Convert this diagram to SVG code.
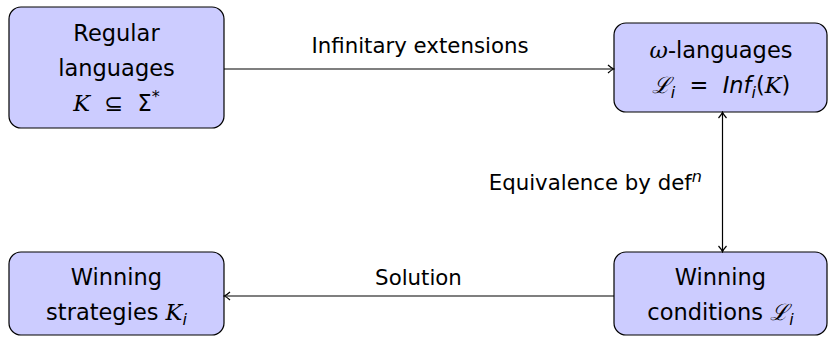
<svg xmlns="http://www.w3.org/2000/svg" width="828" height="338" viewBox="0 0 828 338">
<defs>
<style>
.box{fill:#ccccff;stroke:#000;stroke-width:1.2}
.t{font-family:"DejaVu Sans",sans-serif;font-size:22.5px;fill:#000;text-anchor:middle}
.l{font-family:"DejaVu Sans",sans-serif;font-size:21.3px;fill:#000;text-anchor:middle}
.m{font-family:"DejaVu Serif",serif;font-style:italic}
.i{font-style:italic}
.sub{font-size:16px}
.c{fill:none;stroke:#000;stroke-width:1.2}
</style>
<marker id="ah" viewBox="-6 -5 8 10" markerWidth="8" markerHeight="10" refX="0" refY="0" orient="auto-start-reverse" markerUnits="userSpaceOnUse">
<path d="M-5,-4 Q-1.5,-0.8 0.8,0 Q-1.5,0.8 -5,4" fill="none" stroke="#000" stroke-width="1.2"/>
</marker>
</defs>
<g id="n1">
<rect class="box" x="9" y="7" width="215" height="121" rx="12"/>
<text class="t" x="116.5" y="41">Regular</text>
<text class="t" x="116.5" y="76">languages</text>
<text class="t" x="116.5" y="111" xml:space="preserve"><tspan class="m">K</tspan>  ⊆  Σ<tspan class="sub" dy="-9">*</tspan></text>
</g>
<g id="n2">
<rect class="box" x="614" y="23" width="213" height="89" rx="12"/>
<text class="t" x="721" y="58"><tspan class="m">ω</tspan>-languages</text>
<text class="t" x="721" y="93" xml:space="preserve"><tspan class="m">ℒ</tspan><tspan class="sub i" dy="5">i</tspan><tspan dy="-5">  =  </tspan><tspan class="i">Inf</tspan><tspan class="sub i" dy="5">i</tspan><tspan dy="-5">(</tspan><tspan class="m">K</tspan>)</text>
</g>
<g id="n3">
<rect class="box" x="9" y="252" width="215" height="83" rx="12"/>
<text class="t" x="116.5" y="285">Winning</text>
<text class="t" x="116.5" y="320">strategies <tspan class="m">K</tspan><tspan class="sub i" dy="5">i</tspan></text>
</g>
<g id="n4">
<rect class="box" x="614" y="252" width="213" height="83" rx="12"/>
<text class="t" x="720.5" y="285">Winning</text>
<text class="t" x="720.5" y="320">conditions <tspan class="m">ℒ</tspan><tspan class="sub i" dy="5">i</tspan></text>
</g>
<g id="connectors">
<path class="c" d="M224,69 H613" marker-end="url(#ah)"/>
<path class="c" d="M722.5,113 V251" marker-start="url(#ah)" marker-end="url(#ah)"/>
<path class="c" d="M614,296 H225" marker-end="url(#ah)"/>
<text class="l" x="420" y="53">Infinitary extensions</text>
<text class="l" x="702" y="190" style="text-anchor:end">Equivalence by def<tspan class="i sub" dy="-8">n</tspan></text>
<text class="l" x="418.5" y="285">Solution</text>
</g>
</svg>
